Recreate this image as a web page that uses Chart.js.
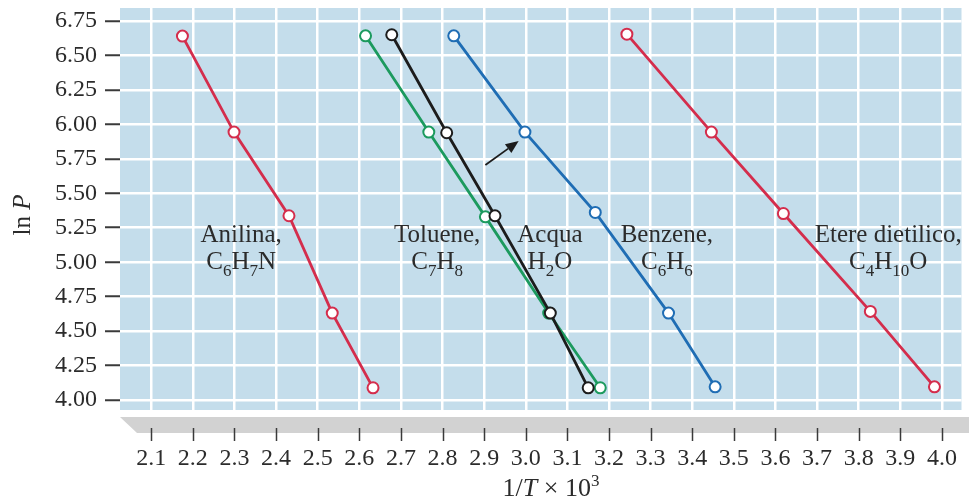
<!DOCTYPE html>
<html>
<head>
<meta charset="utf-8">
<script src="https://cdn.jsdelivr.net/npm/chart.js@4.4.1/dist/chart.umd.min.js"></script>
<style>
html,body{margin:0;padding:0;background:#fff;}
#wrap{width:969px;height:499px;position:relative;}
</style>
</head>
<body>
<div id="wrap"><canvas id="c" width="969" height="499"></canvas></div>
<script>
// ---- data ----
const xTickValues = [2.1,2.2,2.3,2.4,2.5,2.6,2.7,2.8,2.9,3.0,3.1,3.2,3.3,3.4,3.5,3.6,3.7,3.8,3.9,4.0];
const yTickValues = [4.00,4.25,4.50,4.75,5.00,5.25,5.50,5.75,6.00,6.25,6.50,6.75];

const anilinaX = [2.175, 2.299, 2.431, 2.535, 2.633];
const anilinaY = [6.640, 5.944, 5.337, 4.631, 4.089];

const tolueneX = [2.678, 2.810, 2.926, 3.059, 3.150];
const tolueneY = [6.650, 5.939, 5.337, 4.631, 4.089];

const acquaX = [2.615, 2.767, 2.903, 3.055, 3.179];
const acquaY = [6.642, 5.944, 5.329, 4.631, 4.089];

const benzeneX = [2.827, 2.998, 3.167, 3.343, 3.455];
const benzeneY = [6.642, 5.944, 5.361, 4.631, 4.096];

const etereX = [3.243, 3.446, 3.619, 3.828, 3.982];
const etereY = [6.654, 5.944, 5.353, 4.643, 4.096];

// ---- styling / annotation config ----
const SERIF = '"Liberation Serif", "Times New Roman", serif';
const RED = '#d42d4c', GREEN = '#1c9a5e', BLUE = '#1f6db4', BLACK = '#1c1c1c';
const TEXT = '#2b2b2b';

const pts = (xs, ys) => xs.map((x, i) => ({x, y: ys[i]}));

function ds(label, xs, ys, color) {
  return {
    label, data: pts(xs, ys), borderColor: color, backgroundColor: '#ffffff',
    borderWidth: 2.8, pointRadius: 5.5, pointBorderWidth: 2, pointBackgroundColor: '#ffffff',
    pointBorderColor: color, tension: 0, showLine: true, clip: false
  };
}

const labelAnnotations = [
  {x: 2.316, y: 5.145, lines: [[['Anilina,']], [['C'],['6','sub'],['H'],['7','sub'],['N']]]},
  {x: 2.787, y: 5.145, lines: [[['Toluene,']], [['C'],['7','sub'],['H'],['8','sub']]]},
  {x: 3.058, y: 5.145, lines: [[['Acqua']], [['H'],['2','sub'],['O']]]},
  {x: 3.339, y: 5.145, lines: [[['Benzene,']], [['C'],['6','sub'],['H'],['6','sub']]]},
  {x: 3.871, y: 5.145, lines: [[['Etere dietilico,']], [['C'],['4','sub'],['H'],['10','sub'],['O']]]}
];
const arrowFrom = {x: 2.903, y: 5.705};
const arrowTo = {x: 2.983, y: 5.879};

function fontFor(kind, size) {
  if (kind === 'sub' || kind === 'sup') return `${Math.round(size * 0.66)}px ${SERIF}`;
  if (kind === 'italic') return `italic ${size}px ${SERIF}`;
  return `${size}px ${SERIF}`;
}
function drawRich(ctx, segs, cx, baseline, size) {
  const widths = segs.map(s => { ctx.font = fontFor(s[1], size); return ctx.measureText(s[0]).width; });
  const total = widths.reduce((a, b) => a + b, 0);
  let x = cx - total / 2;
  ctx.textAlign = 'left';
  ctx.textBaseline = 'alphabetic';
  segs.forEach((s, i) => {
    ctx.font = fontFor(s[1], size);
    const dy = s[1] === 'sub' ? size * 0.28 : s[1] === 'sup' ? -size * 0.4 : 0;
    ctx.fillText(s[0], x, baseline + dy);
    x += widths[i];
  });
}

const decorPlugin = {
  id: 'decor',
  beforeDraw(chart) {
    const {ctx, chartArea: a} = chart;
    ctx.save();
    ctx.fillStyle = '#c4ddeb';
    ctx.fillRect(a.left, a.top, a.right - a.left, a.bottom - a.top);
    // grey base band (pseudo-3D floor)
    ctx.fillStyle = '#d2d2d2';
    ctx.beginPath();
    ctx.moveTo(a.left, a.bottom + 7);
    ctx.lineTo(chart.width, a.bottom + 7);
    ctx.lineTo(chart.width, a.bottom + 23);
    ctx.lineTo(a.left + 17, a.bottom + 23);
    ctx.closePath();
    ctx.fill();
    ctx.restore();
  },
  afterDraw(chart) {
    const {ctx, chartArea: a, scales: {x, y}} = chart;
    ctx.save();
    // x tick marks
    ctx.strokeStyle = '#3a3a3a';
    ctx.lineWidth = 1.5;
    xTickValues.forEach(v => {
      const px = Math.round(x.getPixelForValue(v)) + 0.5;
      ctx.beginPath();
      ctx.moveTo(px, a.bottom + 18);
      ctx.lineTo(px, a.bottom + 31);
      ctx.stroke();
    });
    ctx.fillStyle = TEXT;
    // compound labels
    labelAnnotations.forEach(l => {
      const cx = x.getPixelForValue(l.x);
      const by = y.getPixelForValue(l.y);
      l.lines.forEach((segs, i) => drawRich(ctx, segs, cx, by + i * 27, 25));
    });
    // arrow
    const x0 = x.getPixelForValue(arrowFrom.x), y0 = y.getPixelForValue(arrowFrom.y);
    const x1 = x.getPixelForValue(arrowTo.x), y1 = y.getPixelForValue(arrowTo.y);
    const ang = Math.atan2(y1 - y0, x1 - x0);
    const hl = 13, hw = 5.5;
    const bx = x1 - hl * Math.cos(ang), byy = y1 - hl * Math.sin(ang);
    ctx.strokeStyle = '#1c1c1c';
    ctx.lineWidth = 1.8;
    ctx.beginPath(); ctx.moveTo(x0, y0); ctx.lineTo(bx, byy); ctx.stroke();
    ctx.fillStyle = '#1c1c1c';
    ctx.beginPath();
    ctx.moveTo(x1, y1);
    ctx.lineTo(bx + hw * Math.sin(ang), byy - hw * Math.cos(ang));
    ctx.lineTo(bx - hw * Math.sin(ang), byy + hw * Math.cos(ang));
    ctx.closePath(); ctx.fill();
    // axis titles
    ctx.fillStyle = TEXT;
    drawRich(ctx, [['1/'], ['T', 'italic'], [' \u00d7 10'], ['3', 'sup']], 551, 496, 26);
    ctx.translate(30, 215);
    ctx.rotate(-Math.PI / 2);
    drawRich(ctx, [['ln '], ['P', 'italic']], 0, 0, 25);
    ctx.restore();
  }
};

new Chart(document.getElementById('c'), {
  type: 'scatter',
  data: {
    datasets: [
      ds('Anilina, C6H7N', anilinaX, anilinaY, RED),
      ds('Toluene, C7H8', tolueneX, tolueneY, BLACK),
      ds('Acqua, H2O', acquaX, acquaY, GREEN),
      ds('Benzene, C6H6', benzeneX, benzeneY, BLUE),
      ds('Etere dietilico, C4H10O', etereX, etereY, RED)
    ]
  },
  options: {
    responsive: false,
    devicePixelRatio: 1,
    animation: false,
    layout: {padding: {top: 8, right: 6, left: 0, bottom: 0}},
    plugins: {legend: {display: false}, tooltip: {enabled: false}},
    scales: {
      x: {
        type: 'linear', min: 2.025, max: 4.047,
        afterBuildTicks: s => { s.ticks = xTickValues.map(v => ({value: v})); },
        afterFit: s => { s.height = 89; s.paddingLeft = 0; s.paddingRight = 0; },
        grid: {color: '#ffffff', lineWidth: 2.5, drawTicks: false},
        border: {display: false},
        ticks: {
          padding: 34, color: TEXT, font: {family: SERIF, size: 24},
          callback: v => Number(v).toFixed(1), maxRotation: 0, autoSkip: false
        }
      },
      y: {
        type: 'linear', min: 3.928, max: 6.844,
        afterBuildTicks: s => { s.ticks = yTickValues.map(v => ({value: v})); },
        afterFit: s => { s.width = 120; s.paddingTop = 0; s.paddingBottom = 0; },
        grid: {color: '#ffffff', lineWidth: 2.5, drawTicks: true, tickLength: 15, tickColor: '#3a3a3a', tickWidth: 2},
        border: {display: false},
        ticks: {
          padding: 8, color: TEXT, font: {family: SERIF, size: 24},
          callback: v => Number(v).toFixed(2), autoSkip: false
        }
      }
    }
  },
  plugins: [decorPlugin]
});
</script>
</body>
</html>
